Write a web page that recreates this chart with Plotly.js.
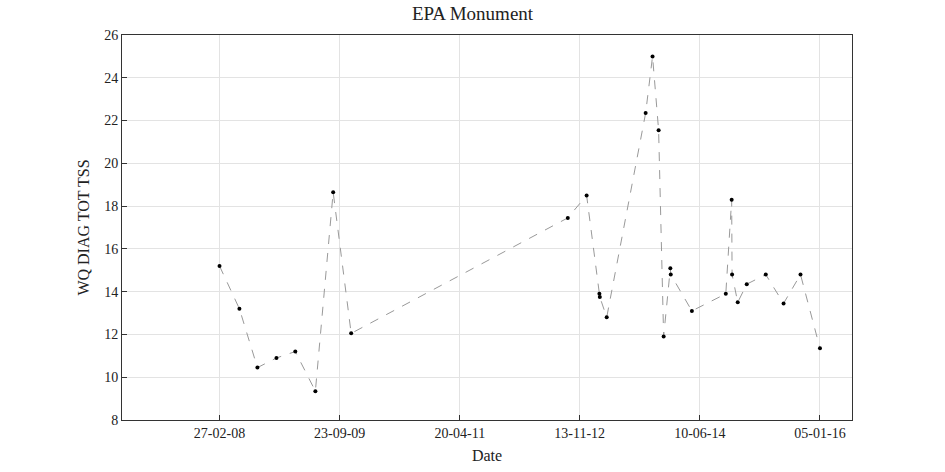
<!DOCTYPE html>
<html><head><meta charset="utf-8">
<script src="https://cdn.plot.ly/plotly-3.0.1.min.js"></script>
<style>body{margin:0}</style></head><body>
<div id="c" style="width:945px;height:472px"></div>
<script>
const dates=["2008-02-27","2008-06-01","2008-08-26","2008-11-25","2009-02-23","2009-05-30","2009-08-23","2009-11-17","2012-09-17","2012-12-16","2013-02-15","2013-02-17","2013-03-22","2013-09-24","2013-10-27","2013-11-25","2013-12-19","2014-01-20","2014-01-22","2014-05-03","2014-10-12","2014-11-09","2014-11-11","2014-12-08","2015-01-20","2015-04-21","2015-07-15","2015-10-04","2016-01-05"];
const tss=[15.2,13.2,10.45,10.9,11.2,9.35,18.65,12.05,17.45,18.5,13.9,13.75,12.8,22.35,25,21.55,11.9,15.1,14.8,13.1,13.9,18.3,14.8,13.5,14.35,14.8,13.45,14.8,11.35];
const tickVals=["2008-02-27","2009-09-23","2011-04-20","2012-11-13","2014-06-10","2016-01-05"];
const tickText=["27-02-08","23-09-09","20-04-11","13-11-12","10-06-14","05-01-16"];
Plotly.newPlot("c",[{x:dates,y:tss,type:"scatter",mode:"lines+markers",
 line:{color:"#999",width:1,dash:"dash"},marker:{color:"#000",size:4}}],{
 width:945,height:472,margin:{l:122,r:93,t:35,b:52},
 paper_bgcolor:"#fff",plot_bgcolor:"#fff",
 font:{family:"Liberation Serif, DejaVu Serif, serif",size:14,color:"#222"},
 title:{text:"EPA Monument",x:0.5,y:0.985,yanchor:"top",font:{size:19}},
 xaxis:{type:"date",range:["2006-11-18","2016-06-06"],tickvals:tickVals,ticktext:tickText,
  showgrid:true,gridcolor:"#e3e3e3",showline:true,mirror:true,linecolor:"#333",linewidth:1,
  ticks:"inside",ticklen:5,tickcolor:"#333",zeroline:false,
  title:{text:"Date",standoff:10,font:{size:16}}},
 yaxis:{range:[8,26],dtick:2,showgrid:true,gridcolor:"#e3e3e3",showline:true,mirror:true,
  linecolor:"#333",linewidth:1,ticks:"inside",ticklen:5,tickcolor:"#333",zeroline:false,
  title:{text:"WQ DIAG TOT TSS",standoff:10,font:{size:16}}},
 showlegend:false},{displayModeBar:false});
</script></body></html>
